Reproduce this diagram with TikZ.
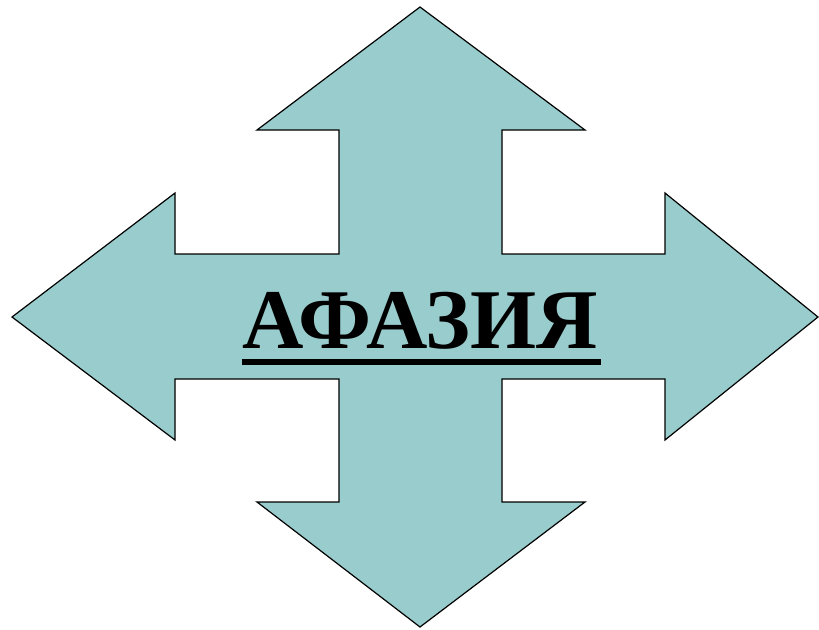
\documentclass[tikz,border=0pt]{standalone}
\usepackage{fontspec}
\setmainfont{Liberation Serif}
\usepackage{xcolor}
\definecolor{arrowTeal}{HTML}{99CCCC}
\usetikzlibrary{calc}

\begin{document}
\begin{tikzpicture}[
    x=1pt, y=-1pt,
    crossArrow/.style={
        draw=black,
        fill=arrowTeal,
        line width=1.2pt,
        line join=miter
    },
    titleText/.style={
        font=\fontsize{85}{90}\selectfont\bfseries,
        inner sep=0pt,
        anchor=base
    },
    underLine/.style={
        line width=6pt,
        color=black
    }
]
\useasboundingbox (0,0) rectangle (819,629);

% Four-way arrow
\draw[crossArrow] (420,7) -- (585,130) -- (502,130) -- (502,254)
    -- (665,254) -- (665,193) -- (818,317) -- (665,440) -- (665,379)
    -- (502,379) -- (502,502) -- (585,502) -- (420,627) -- (257,502)
    -- (339,502) -- (339,379) -- (175,379) -- (175,440) -- (12,317)
    -- (175,193) -- (175,254) -- (339,254) -- (339,130) -- (257,130)
    -- cycle;

% Title
\node[titleText] (title) at (420,348) {АФАЗИЯ};
\draw[underLine] ([yshift=-13.5pt]title.base west) -- ([yshift=-13.5pt,xshift=3pt]title.base east);

\end{tikzpicture}
\end{document}
